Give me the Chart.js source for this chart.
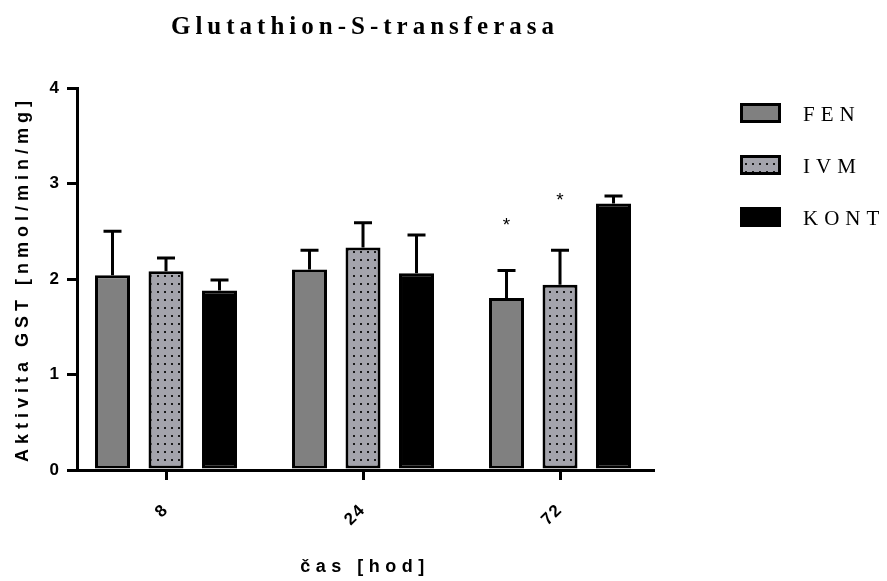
<!DOCTYPE html>
<html><head><meta charset="utf-8">
<script src="https://cdn.jsdelivr.net/npm/chart.js@4.4.1/dist/chart.umd.min.js"></script>
<style>html,body{margin:0;padding:0;background:#fff}#wrap{width:887px;height:581px}</style>
</head><body><div id="wrap"><canvas id="c" width="887" height="581"></canvas></div>
<script>
const CATEGORIES = ['8', '24', '72'];
const SERIES = ['FEN', 'IVM', 'KONT'];
const FEN = [2.04, 2.10, 1.80];
const FEN_ERR = [0.46, 0.20, 0.29];
const IVM = [2.08, 2.33, 1.94];
const IVM_ERR = [0.14, 0.26, 0.36];
const KONT = [1.88, 2.06, 2.79];
const KONT_ERR = [0.11, 0.40, 0.08];
const FEN_STAR = [null, null, 2.59];
const IVM_STAR = [null, null, 2.85];
const KONT_STAR = [null, null, null];
const Y_TICKS = [0, 1, 2, 3, 4];
const TITLE = 'Glutathion-S-transferasa';
const X_TITLE = 'čas [hod]';
const Y_TITLE = 'Aktivita GST [nmol/min/mg]';

function dotPattern() {
  const c = document.createElement('canvas');
  c.width = 7; c.height = 8;
  const g = c.getContext('2d');
  g.fillStyle = '#a4a4ac';
  g.fillRect(0, 0, 7, 8);
  g.fillStyle = '#1a1a1a';
  g.fillRect(3, 3, 2, 2);
  return g.createPattern(c, 'repeat');
}
const PATTERN = dotPattern();

const ERRS = [FEN_ERR, IVM_ERR, KONT_ERR];
const STARS = [FEN_STAR, IVM_STAR, KONT_STAR];
const VALUES = [FEN, IVM, KONT];
const FILLS = ['#808080', PATTERN, '#000000'];

function spaced(fn, sp) {
  return function (...a) {
    const c = this.ctx; c.save(); c.letterSpacing = sp;
    const r = fn.apply(this, a); c.restore(); return r;
  };
}

const extras = {
  id: 'extras',
  beforeDraw(chart) {
    if (chart.$patched) return;
    const sx = chart.scales.x, sy = chart.scales.y;
    sx.drawTitle = spaced(sx.drawTitle, '5.5px');
    sy.drawTitle = spaced(sy.drawTitle, '5px');
    sx.drawLabels = spaced(sx.drawLabels, '1.5px');
    if (chart.titleBlock) chart.titleBlock.draw = spaced(chart.titleBlock.draw, '5px');
    chart.$patched = true;
  },
  afterDatasetsDraw(chart) {
    const ctx = chart.ctx, ys = chart.scales.y;
    ctx.save();
    ctx.strokeStyle = '#000'; ctx.lineWidth = 3; ctx.lineCap = 'butt';
    chart.data.datasets.forEach((ds, di) => {
      const meta = chart.getDatasetMeta(di);
      meta.data.forEach((bar, i) => {
        const v = VALUES[di][i], e = ERRS[di][i];
        const x = bar.x, yv = ys.getPixelForValue(v), yt = ys.getPixelForValue(v + e);
        ctx.beginPath();
        ctx.moveTo(x, yv); ctx.lineTo(x, yt);
        ctx.moveTo(x - 9, yt); ctx.lineTo(x + 9, yt);
        ctx.stroke();
        const s = STARS[di][i];
        if (s != null) {
          ctx.fillStyle = '#000';
          ctx.font = '19px "Liberation Sans", Arial, sans-serif';
          ctx.textAlign = 'center'; ctx.textBaseline = 'middle';
          ctx.fillText('*', x, ys.getPixelForValue(s) + 3);
        }
      });
    });
    ctx.restore();
  },
  afterDraw(chart) {
    const ctx = chart.ctx;
    ctx.save();
    chart.data.datasets.forEach((ds, i) => {
      const top = 103 + i * 52;
      ctx.fillStyle = ds.backgroundColor;
      ctx.fillRect(740, top, 41, 20);
      ctx.strokeStyle = '#000'; ctx.lineWidth = 3;
      ctx.strokeRect(741.5, top + 1.5, 38, 17);
      ctx.fillStyle = '#000';
      ctx.font = '21px "Liberation Serif", "Times New Roman", serif';
      ctx.letterSpacing = '6px';
      ctx.textAlign = 'left'; ctx.textBaseline = 'middle';
      ctx.fillText(ds.label, 803, top + 12);
      ctx.letterSpacing = '0px';
    });
    ctx.restore();
  }
};

const datasets = SERIES.map((name, si) => ({
  label: name,
  data: VALUES[si].map((v, i) => ({ x: i, y: v })),
  backgroundColor: FILLS[si],
  borderColor: '#000',
  borderWidth: 3,
  borderSkipped: false,
  categoryPercentage: 0.8147,
  barPercentage: 0.654
}));

const tickFont = { family: '"Liberation Sans", Arial, sans-serif', size: 17, weight: 'bold' };
const titleFont = { family: '"Liberation Sans", Arial, sans-serif', size: 18, weight: 'bold' };

new Chart(document.getElementById('c'), {
  type: 'bar',
  data: { datasets },
  plugins: [extras],
  options: {
    responsive: false,
    devicePixelRatio: 1,
    animation: false,
    layout: { padding: { left: 0, top: 0, right: 234, bottom: 0 } },
    plugins: {
      legend: { display: false },
      tooltip: { enabled: false },
      title: {
        display: true, text: TITLE, fullSize: false, color: '#000',
        font: { family: '"Liberation Serif", "Times New Roman", serif', size: 25, weight: 'bold' },
        padding: { top: 13, bottom: 45 }
      }
    },
    scales: {
      x: {
        type: 'linear',
        offset: false,
        min: -0.4518, max: 2.472,
        afterBuildTicks: s => { s.ticks = CATEGORIES.map((_, i) => ({ value: i })); },
        afterFit: s => { s.height = 111; },
        ticks: {
          callback: v => CATEGORIES[v],
          minRotation: 45, maxRotation: 45,
          color: '#000', font: tickFont, padding: 20
        },
        grid: { display: true, offset: false, drawOnChartArea: false, drawTicks: true, tickLength: 10, lineWidth: 3, color: '#000' },
        border: { display: true, width: 3, color: '#000' },
        title: { display: true, text: X_TITLE, color: '#000', font: titleFont, padding: { top: 0, bottom: 3 } }
      },
      y: {
        min: 0, max: 4,
        afterBuildTicks: s => { s.ticks = Y_TICKS.map(v => ({ value: v })); },
        afterFit: s => { s.width = 77; },
        ticks: { color: '#000', font: tickFont, padding: 8 },
        grid: { display: true, drawOnChartArea: false, drawTicks: true, tickLength: 10, lineWidth: 3, color: '#000' },
        border: { display: true, width: 3, color: '#000' },
        title: { display: true, text: Y_TITLE, color: '#000', font: titleFont, padding: { top: 12, bottom: 0 } }
      }
    }
  }
});
</script>
</body></html>
